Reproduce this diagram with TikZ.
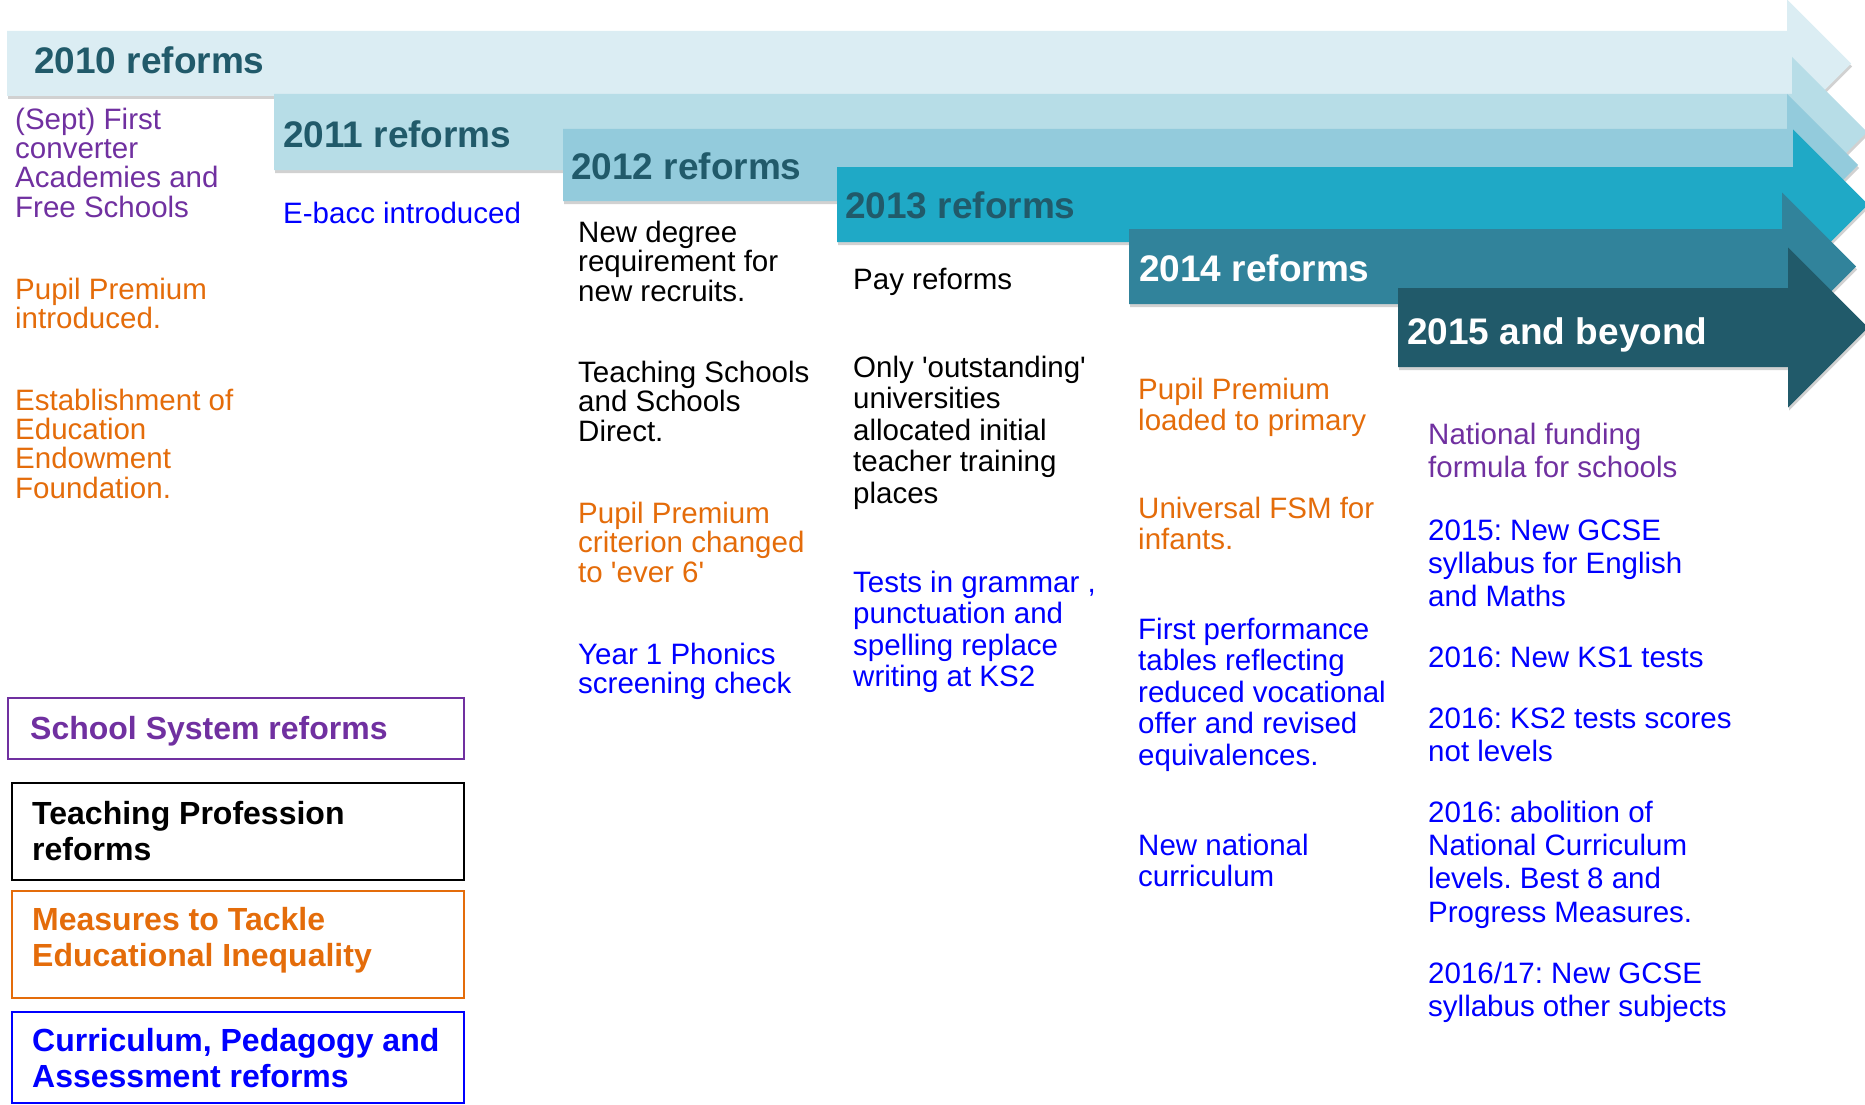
\documentclass[tikz,border=0pt]{standalone}
\usepackage{fontspec}
\setmainfont{Liberation Sans}
\usetikzlibrary{shadows}
\frenchspacing
\definecolor{cA}{HTML}{DBEDF3}
\definecolor{cB}{HTML}{B7DDE7}
\definecolor{cC}{HTML}{93CBDC}
\definecolor{cD}{HTML}{1FA9C6}
\definecolor{cE}{HTML}{31839B}
\definecolor{cF}{HTML}{215A6A}
\definecolor{ttl}{HTML}{215A6A}
\definecolor{cpurple}{HTML}{7030A0}
\definecolor{corange}{HTML}{E46C0A}
\definecolor{cblue}{HTML}{0000FF}
\newcommand{\fs}{\rule{0pt}{22pt}}
\newcommand{\ls}{\rule{0pt}{24pt}}
\newcommand{\q}{\textquotesingle}
\newcommand{\bandarrow}[6]{% colour, left, top, bottom, head x, head half-height
  \path[band=#1] (#2,#3) -- (#5,#3) -- (#5,{(#3+#4)/2-#6}) -- ({#5+#6},{(#3+#4)/2})
    -- (#5,{(#3+#4)/2+#6}) -- (#5,#4) -- (#2,#4) -- cycle;
}
\tikzset{
  band/.style={fill=#1, draw=none,
    drop shadow={shadow xshift=1pt, shadow yshift=-3pt, opacity=0.18, fill=black}},
  yeartitle/.style={anchor=base west, inner sep=0pt,
    font=\fontsize{37}{40}\selectfont\bfseries, text=ttl},
  body/.style={anchor=north west, inner sep=0pt, align=left,
    font=\fontsize{29.5}{#1}\selectfont},
  body/.default=29.5,
  legbox/.style={draw=#1, anchor=north west, inner sep=0pt, outer sep=0pt},
  legtext/.style={anchor=north west, inner sep=0pt, align=left,
    font=\fontsize{32}{36.5}\selectfont\bfseries},
}
\begin{document}
\begin{tikzpicture}[x=1pt, y=-1pt]
\useasboundingbox (0,0) rectangle (1865,1105);
\clip (0,0) rectangle (1865,1105);

% timeline arrows
\bandarrow{cA}{7}{31}{96}{1787}{64}
\bandarrow{cB}{274}{94}{170}{1792}{75}
\bandarrow{cC}{563}{129}{201}{1787}{71}
\bandarrow{cD}{837}{167}{242}{1793}{75}
\bandarrow{cE}{1129}{229}{304}{1782}{74}
\bandarrow{cF}{1398}{288}{367}{1788}{80}

% year titles
\node[yeartitle] (t2010) at (34,74) {2010 reforms};
\node[yeartitle] (t2011) at (283,147.5) {2011 reforms};
\node[yeartitle] (t2012) at (571,179) {2012 reforms};
\node[yeartitle] (t2013) at (845,218) {2013 reforms};
\node[yeartitle, text=white] (t2014) at (1139,281) {2014 reforms};
\node[yeartitle, text=white] (t2015) at (1407,344) {2015 and beyond};

% 2010 column
\node[body=29.3, text=cpurple] (a1) at (15,107) {\fs(Sept) First\\converter\\Academies and\\Free Schools};
\node[body=29.3, text=corange] (a2) at (15,277) {\fs Pupil Premium\\introduced.};
\node[body=29.3, text=corange] (a3) at (15,388) {\fs Establishment of\\Education\\Endowment\\Foundation.};

% 2011 column
\node[body, text=cblue] (b1) at (283,201) {\fs E-bacc introduced};

% 2012 column
\node[body=29.5, text=black] (c1) at (578,220) {\fs New degree\\requirement for\\new recruits.};
\node[body=29.5, text=black] (c2) at (578,360) {\fs Teaching Schools\\and Schools\\Direct.};
\node[body=29.5, text=corange] (c3) at (578,501) {\fs Pupil Premium\\criterion changed\\to \q ever 6\q};
\node[body=29.5, text=cblue] (c4) at (578,642) {\fs Year 1 Phonics\\screening check};

% 2013 column
\node[body=31.5, text=black] (d1) at (853,267) {\fs Pay reforms};
\node[body=31.5, text=black] (d2) at (853,355) {\fs Only \q outstanding\q\\universities\\allocated initial\\teacher training\\places};
\node[body=31.5, text=cblue] (d3) at (853,570) {\fs Tests in grammar ,\\punctuation and\\spelling replace\\writing at KS2};

% 2014 column
\node[body=31.5, text=corange] (e1) at (1138,377) {\fs Pupil Premium\\loaded to primary};
\node[body=31.5, text=corange] (e2) at (1138,496) {\fs Universal FSM for\\infants.};
\node[body=31.5, text=cblue] (e3) at (1138,617) {\fs First performance\\tables reflecting\\reduced vocational\\offer and revised\\equivalences.};
\node[body=31.5, text=cblue] (e4) at (1138,833) {\fs New national\\curriculum};

% 2015 column
\node[body=33.3, text=cpurple] (f1) at (1428,422) {\fs National funding\\formula for schools};
\node[body=33.3, text=cblue] (f2) at (1428,518) {\fs 2015: New GCSE\\syllabus for English\\and Maths};
\node[body=33.3, text=cblue] (f3) at (1428,645) {\fs 2016: New KS1 tests};
\node[body=33.3, text=cblue] (f4) at (1428,706) {\fs 2016: KS2 tests scores\\not levels};
\node[body=33.3, text=cblue] (f5) at (1428,800) {\fs 2016: abolition of\\National Curriculum\\levels. Best 8 and\\Progress Measures.};
\node[body=33.3, text=cblue] (f6) at (1428,961) {\fs 2016/17: New GCSE\\syllabus other subjects};

% legend
\node[legbox=cpurple, line width=1.5pt, minimum width=456pt, minimum height=61pt] (k1) at (8,698) {};
\node[legbox=black, line width=2.5pt, minimum width=452pt, minimum height=97pt] (k2) at (12,783) {};
\node[legbox=corange, line width=1.8pt, minimum width=452pt, minimum height=107pt] (k3) at (12,891) {};
\node[legbox=cblue, line width=2pt, minimum width=452pt, minimum height=91pt] (k4) at (12,1012) {};
\node[legtext, text=cpurple] (k1t) at (30,715) {\ls School System reforms};
\node[legtext, text=black] (k2t) at (32,800) {\ls Teaching Profession\\reforms};
\node[legtext, text=corange] (k3t) at (32,906) {\ls Measures to Tackle\\Educational Inequality};
\node[legtext, text=cblue] (k4t) at (32,1027) {\ls Curriculum, Pedagogy and\\Assessment reforms};
\end{tikzpicture}
\end{document}
